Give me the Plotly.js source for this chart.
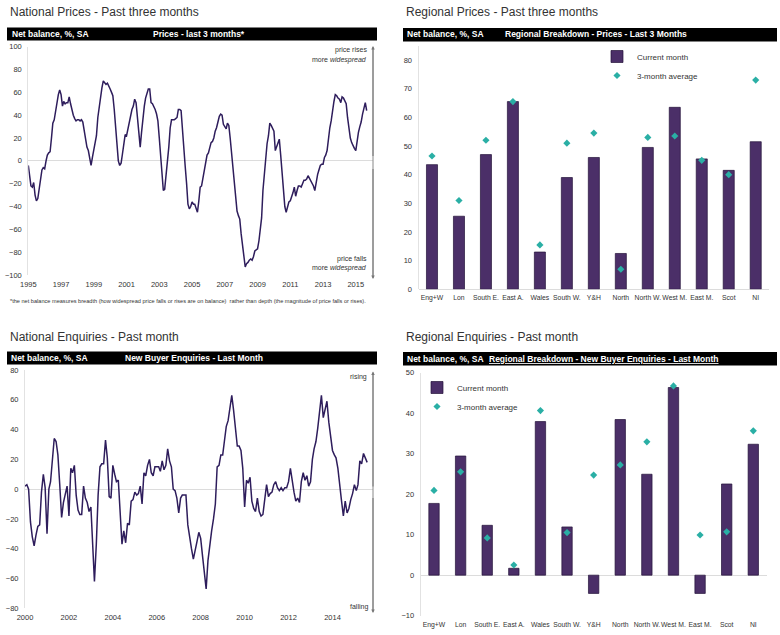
<!DOCTYPE html>
<html><head><meta charset="utf-8">
<script src="https://cdn.plot.ly/plotly-3.0.1.min.js"></script>
<style>html,body{margin:0;padding:0;background:#fff;}#chart{width:780px;height:635px;}</style>
</head><body><div id="chart"></div>
<script>
// ---------- DATA ----------
const priceStartYear = 1995;
const priceBalance = [
  -4, -14, -22, -23, -19, -30, -35, -33, -25, -15, -8, -6,
  -7, 0, 5, 7, 8, 20, 33, 36, 45, 52, 58, 62,
  58, 48, 52, 50, 51, 51, 56, 50, 44, 40, 37, 35,
  36, 36, 35, 36, 34, 26, 16, 12, 9, 4, -4, 3,
  9, 14, 22, 38, 48, 58, 64, 70, 68, 67, 68, 66,
  63, 60, 57, 45, 29, 12, 0, -4, -2, 6, 15, 23,
  22, 28, 35, 38, 45, 48, 54, 51, 35, 23, 12, 25,
  38, 48, 55, 60, 63, 63, 51, 50, 48, 45, 41, 35,
  20, 3, -15, -26, -25, -14, -3, 12, 29, 36, 36, 36,
  37, 38, 45, 45, 44, 30, 13, -5, -20, -38, -42, -40,
  -36, -38, -38, -42, -45, -35, -23, -22, -15, -8, 0, 5,
  7, 12, 16, 17, 20, 26, 29, 34, 39, 41, 40, 32,
  30, 28, 33, 31, 20, 7, -5, -17, -30, -44, -48, -51,
  -64, -75, -85, -93, -90, -89, -87, -86, -87, -84, -79, -78,
  -77, -70, -60, -50, -26, -10, 6, 15, 22, 33, 31, 29,
  26, 9, 12, 17, 19, 5, -9, -31, -40, -45, -39, -36,
  -35, -32, -28, -23, -31, -26, -22, -22, -23, -20, -17, -17,
  -16, -13, -15, -17, -20, -22, -26, -18, -12, -8, -4, -3,
  -3, 3, 5, 9, 20, 29, 35, 45, 52, 58, 57, 55,
  54, 51, 56, 55, 52, 50, 38, 28, 20, 16, 13, 11,
  9, 18, 25, 30, 34, 41, 46, 51, 44
];
const enquiryStartYear = 2000;
const enquiryBalance = [
  2, 3, 0, -22, -32, -38, -31, -25, -24, -2, 10, 1,
  -30, 0, 5, 19, 34, 32, 23, 3, -19, -9, -3, 2,
  -18, 14, 11, 16, -4, -14, -17, -17, 2, -6, -9, -15,
  -12, -37, -62, -37, -4, 15, 17, 17, 33, 21, -5, -6,
  16, 10, 5, 6, -20, -37, -28, -36, -23, -24, -8, -7,
  -2, -4, -3, 2, -10, 11, 9, 16, 20, 11, 9, 15,
  15, 15, 12, 19, 13, 16, 27, 19, 15, 0, -1, -6,
  -16, -6, -4, -4, -4, -24, -33, -40, -47, -40, -35, -29,
  -33, -45, -55, -67, -48, -37, -28, -20, -10, 15, 16, 23,
  23, 33, 42, 46, 53, 63, 53, 41, 29, 29, 26, 14,
  -12, 6, 4, 8, -8, -13, -15, -6, -15, -18, -17, -7,
  3, -5, -3, -2, 3, 5, 1, -1, 1, -1, 1, 1,
  5, 14, 5, -2, -8, -6, -9, 5, 11, 6, 9, 2,
  5, 20, 27, 32, 41, 52, 63, 48, 54, 59, 45, 36,
  26, 23, 21, 14, 5, -8, -18, -8, -16, -13, -7, -3,
  3, -1, 3, 19, 17, 24, 21, 18
];
const regions = ["Eng+W", "Lon", "South E.", "East A.", "Wales", "South W.", "Y&H", "North", "North W.", "West M.", "East M.", "Scot", "NI"];
const regionalPriceCurrent = [43.5, 25.5, 47, 65.5, 13, 39, 46, 12.5, 49.5, 63.5, 45.5, 41.5, 51.5];
const regionalPriceAverage = [46.5, 31, 52, 65.5, 15.5, 51, 54.5, 7, 53, 53.5, 45, 40, 73];
const regionalEnquiryCurrent = [17.7, 29.4, 12.3, 1.7, 37.9, 11.9, -4.5, 38.4, 24.9, 46.3, -4.5, 22.5, 32.3];
const regionalEnquiryAverage = [20.9, 25.5, 9.2, 2.5, 40.6, 10.5, 24.7, 27.2, 32.9, 46.7, 9.9, 10.7, 35.6];
const legendNames = ["Current month", "3-month average"];

// ---------- HELPERS ----------
function monthDates(startYear, n) {
  const out = [];
  for (let i = 0; i < n; i++) {
    const y = startYear + Math.floor(i / 12);
    const m = (i % 12) + 1;
    out.push(y + "-" + String(m).padStart(2, "0") + "-01");
  }
  return out;
}
const W = 780, H = 635;
const X = px => px / W;
const Y = py => 1 - py / H;

const FONT = "Liberation Sans Narrow, Arial Narrow, Liberation Sans, Arial, sans-serif";
const TFONT = "Liberation Sans, Arial, sans-serif";
const LINE = "#2e1d5c";
const BAR = "#4b2f68";
const TEAL = "#2aafa5";
const tickFont = {family: FONT, size: 7.5, color: "#333"};
const catFont = {family: FONT, size: 6.8, color: "#333"};

// ---------- TRACES ----------
const traces = [
  {type: "scatter", mode: "lines", x: monthDates(priceStartYear, priceBalance.length), y: priceBalance,
   xaxis: "x", yaxis: "y", line: {color: LINE, width: 1.5}, showlegend: false},
  {type: "bar", x: regions, y: regionalPriceCurrent, xaxis: "x2", yaxis: "y2", name: legendNames[0],
   width: 0.41, marker: {color: BAR, line: {color: "#24123a", width: 0.7}}, legend: "legend"},
  {type: "scatter", mode: "markers", x: regions, y: regionalPriceAverage, xaxis: "x2", yaxis: "y2", name: legendNames[1],
   marker: {symbol: "diamond", size: 5.5, color: TEAL}, legend: "legend"},
  {type: "scatter", mode: "lines", x: monthDates(enquiryStartYear, enquiryBalance.length), y: enquiryBalance,
   xaxis: "x3", yaxis: "y3", line: {color: LINE, width: 1.5}, showlegend: false},
  {type: "bar", x: regions, y: regionalEnquiryCurrent, xaxis: "x4", yaxis: "y4", name: legendNames[0],
   width: 0.39, marker: {color: BAR, line: {color: "#24123a", width: 0.7}}, legend: "legend2"},
  {type: "scatter", mode: "markers", x: regions, y: regionalEnquiryAverage, xaxis: "x4", yaxis: "y4", name: legendNames[1],
   marker: {symbol: "diamond", size: 5.5, color: TEAL}, legend: "legend2"}
];

// ---------- LAYOUT ----------
const baseX = {showgrid: false, zeroline: false, showline: false, ticks: "", tickfont: tickFont, fixedrange: true, ticklabelstandoff: 3, tickangle: 0};
const baseY = {showgrid: false, zeroline: true, zerolinecolor: "#dcdcdc", zerolinewidth: 1,
  showline: true, linecolor: "#e2e2e2", linewidth: 1, ticks: "", tickfont: tickFont, fixedrange: true, ticklabelstandoff: 4};

function header(x0, x1, y0, y1) {
  return {type: "rect", xref: "paper", yref: "paper", x0: X(x0), x1: X(x1), y0: Y(y1), y1: Y(y0),
    fillcolor: "#000", line: {width: 0}, layer: "above"};
}
function txt(text, x, y, opts) {
  return Object.assign({text: text, x: X(x), y: Y(y), xref: "paper", yref: "paper", showarrow: false,
    xanchor: "left", yanchor: "middle", font: {family: FONT, size: 7.5, color: "#333"}}, opts || {});
}
const headFont = {family: FONT, size: 8.5, color: "#fff", weight: 700};
const panelFont = {family: TFONT, size: 12, color: "#333"};
const noteFont = {family: FONT, size: 7, color: "#333"};
function arrow(x, yTip, ay) {
  return {text: " ", x: X(x), y: Y(yTip), xref: "paper", yref: "paper", ax: 0, ay: ay,
    showarrow: true, arrowhead: 2, arrowsize: 0.7, arrowwidth: 1, arrowcolor: "#777"};
}

const layout = {
  width: W, height: H, margin: {l: 0, r: 0, t: 0, b: 0}, paper_bgcolor: "#fff", plot_bgcolor: "rgba(0,0,0,0)",
  font: {family: FONT, size: 7.5, color: "#333"},
  xaxis: Object.assign({}, baseX, {domain: [X(28.3), X(373)], anchor: "y", type: "date",
    range: ["1995-01-01", "2016-01-20"], dtick: "M24", tick0: "1995-01-01", tickformat: "%Y"}),
  yaxis: Object.assign({}, baseY, {domain: [Y(275), Y(46.7)], anchor: "x", range: [-100, 100], dtick: 20}),
  xaxis2: Object.assign({}, baseX, {domain: [X(418.5), X(769.2)], anchor: "y2", type: "category", range: [-0.5, 12.5], tickfont: catFont}),
  yaxis2: Object.assign({}, baseY, {domain: [Y(289.3), Y(45.7)], anchor: "x2", range: [0, 85], dtick: 10}),
  xaxis3: Object.assign({}, baseX, {domain: [X(25), X(373)], anchor: "y3", type: "date",
    range: ["2000-01-01", "2015-11-06"], dtick: "M24", tick0: "2000-01-01", tickformat: "%Y"}),
  yaxis3: Object.assign({}, baseY, {domain: [Y(608.3), Y(370)], anchor: "x3", range: [-80, 80], dtick: 20}),
  xaxis4: Object.assign({}, baseX, {domain: [X(420.7), X(766.6)], anchor: "y4", type: "category", range: [-0.5, 12.5], tickfont: catFont}),
  yaxis4: Object.assign({}, baseY, {domain: [Y(615.7), Y(372.5)], anchor: "x4", range: [-10, 50], dtick: 10}),
  legend: {x: X(597), y: Y(42), xanchor: "left", yanchor: "top", bgcolor: "rgba(0,0,0,0)",
    font: {family: FONT, size: 8, color: "#333"}, tracegroupgap: 0},
  legend2: {x: X(417), y: Y(373), xanchor: "left", yanchor: "top", bgcolor: "rgba(0,0,0,0)",
    font: {family: FONT, size: 8, color: "#333"}, tracegroupgap: 0},
  showlegend: true,
  shapes: [
    header(7, 377, 27.5, 40.5), header(403, 777, 28, 41.5),
    header(7, 377, 351.5, 364.5), header(403, 777, 352, 365.5),
    {type: "line", xref: "paper", yref: "paper", x0: X(373), x1: X(373), y0: Y(48), y1: Y(277), line: {color: "#888", width: 1}},
    {type: "line", xref: "paper", yref: "paper", x0: X(373), x1: X(373), y0: Y(373), y1: Y(611), line: {color: "#888", width: 1}}
  ],
  annotations: [
    txt("National Prices - Past three months", 8, 12.5, {font: panelFont}),
    txt("Regional Prices - Past three months", 403.5, 12.5, {font: panelFont}),
    txt("National Enquiries - Past month", 8, 336.5, {font: panelFont}),
    txt("Regional Enquiries - Past month", 403.5, 336.5, {font: panelFont}),
    txt("Net balance, %, SA", 10, 34, {font: headFont}),
    txt("Prices - last 3 months*", 199, 34, {font: headFont, xanchor: "center"}),
    txt("Net balance, %, SA", 405, 34.5, {font: headFont}),
    txt("Regional Breakdown - Prices - Last 3 Months", 596, 34.5, {font: headFont, xanchor: "center"}),
    txt("Net balance, %, SA", 9, 358, {font: headFont}),
    txt("New Buyer Enquiries - Last Month", 194, 358, {font: headFont, xanchor: "center"}),
    txt("Net balance, %, SA", 405, 358.5, {font: headFont}),
    txt("<u>Regional Breakdown - New Buyer Enquiries - Last Month</u>", 604, 358.5, {font: headFont, xanchor: "center"}),
    txt("price rises", 368.5, 50, {xanchor: "right", font: noteFont}),
    txt("more <i>widespread</i>", 368.5, 59.5, {xanchor: "right", font: noteFont}),
    txt("price falls", 368.5, 258.5, {xanchor: "right", font: noteFont}),
    txt("more <i>widespread</i>", 368.5, 268, {xanchor: "right", font: noteFont}),
    txt("rising", 368.5, 377, {xanchor: "right", font: noteFont}),
    txt("falling", 370, 606.5, {xanchor: "right", font: noteFont}),
    txt("*the net balance measures breadth (how widespread price falls or rises are on balance)  rather than depth (the magnitude of price falls or rises).",
        8, 300.5, {font: {family: FONT, size: 5.6, color: "#333"}}),
    arrow(373, 46, 116), arrow(373, 279, -116),
    arrow(373, 371.5, 121), arrow(373, 613, -121)
  ]
};

Plotly.newPlot("chart", traces, layout, {displayModeBar: false, staticPlot: true});
</script>
</body></html>
